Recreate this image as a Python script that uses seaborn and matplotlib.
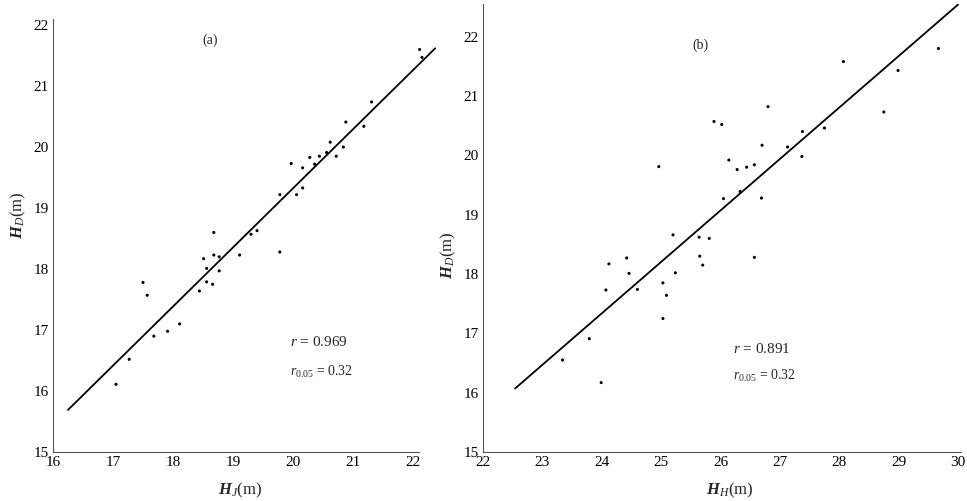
import numpy as np
import pandas as pd
import matplotlib
matplotlib.use("Agg")
import matplotlib.pyplot as plt
import seaborn as sns

# ---- Panel (a) data ----
a_x = [22.11, 22.15, 21.31, 20.88, 21.18, 20.62, 20.84, 20.28, 20.44, 20.56, 20.72,
       19.97, 20.16, 20.36, 20.16, 20.06, 19.78, 18.68, 19.30, 19.40, 19.78, 19.11,
       18.51, 18.68, 18.77, 18.56, 18.77, 18.56, 18.66, 18.44, 17.50, 17.57, 18.11,
       17.91, 17.68, 17.27, 17.05]
a_y = [21.60, 21.47, 20.74, 20.41, 20.34, 20.08, 20.00, 19.83, 19.85, 19.91, 19.85,
       19.73, 19.66, 19.72, 19.33, 19.22, 19.22, 18.60, 18.57, 18.63, 18.28, 18.23,
       18.17, 18.23, 18.20, 18.01, 17.97, 17.79, 17.75, 17.64, 17.78, 17.57, 17.10,
       16.98, 16.90, 16.52, 16.11]
a_line_x = [16.25, 22.37]
a_line_y = [15.69, 21.62]

# ---- Panel (b) data ----
b_x = [29.67, 28.07, 28.99, 28.75, 26.80, 25.89, 26.02, 27.38, 27.75, 26.70, 27.13,
       27.37, 26.14, 26.28, 26.44, 26.57, 24.96, 26.05, 26.69, 26.33, 25.20, 25.64,
       25.81, 24.42, 24.12, 25.65, 25.70, 26.57, 24.46, 25.24, 25.03, 25.09, 24.60,
       24.07, 25.03, 23.79, 23.34, 23.99]
b_y = [21.80, 21.58, 21.43, 20.73, 20.82, 20.57, 20.52, 20.40, 20.46, 20.17, 20.14,
       19.98, 19.92, 19.76, 19.80, 19.84, 19.81, 19.27, 19.28, 19.39, 18.66, 18.62,
       18.60, 18.27, 18.17, 18.30, 18.15, 18.28, 18.01, 18.02, 17.85, 17.64, 17.74,
       17.73, 17.25, 16.91, 16.55, 16.17]
b_line_x = [22.54, 30.0]
b_line_y = [16.07, 22.54]

a_xticks = [16, 17, 18, 19, 20, 21, 22]
a_yticks = [15, 16, 17, 18, 19, 20, 21, 22]
b_xticks = [22, 23, 24, 25, 26, 27, 28, 29, 30]
b_yticks = [15, 16, 17, 18, 19, 20, 21, 22]

sns.set_style("white")
plt.rcParams['font.family'] = ['Liberation Serif', 'DejaVu Serif']
plt.rcParams['mathtext.fontset'] = 'custom'
plt.rcParams['mathtext.rm'] = 'Liberation Serif'
plt.rcParams['mathtext.it'] = 'Liberation Serif:italic'
plt.rcParams['mathtext.bf'] = 'Liberation Serif:bold:italic'

fig = plt.figure(figsize=(9.67, 5.01), dpi=100)
W, H = 967, 501

def make_ax(x0, x1, y0, y1):
    return fig.add_axes([x0 / W, 1 - y1 / H, (x1 - x0) / W, (y1 - y0) / H])

ax1 = make_ax(53, 419, 19, 452)
ax2 = make_ax(483, 961, 4, 452)

dfa = pd.DataFrame({"x": a_x, "y": a_y})
dfb = pd.DataFrame({"x": b_x, "y": b_y})
dla = pd.DataFrame({"x": a_line_x, "y": a_line_y})
dlb = pd.DataFrame({"x": b_line_x, "y": b_line_y})

for ax, df, dl, xl, yl, xt, yt in [
    (ax1, dfa, dla, (16, 22.1), (15, 22.1), a_xticks, a_yticks),
    (ax2, dfb, dlb, (22, 30.05), (15, 22.55), b_xticks, b_yticks),
]:
    sns.scatterplot(data=df, x="x", y="y", ax=ax, s=5, color="black",
                    edgecolor="none", legend=False, clip_on=False)
    sns.lineplot(data=dl, x="x", y="y", ax=ax, color="black", linewidth=1.3,
                 legend=False, sort=False, clip_on=False)
    ax.set_xlim(*xl)
    ax.set_ylim(*yl)
    ax.set_xticks(xt)
    ax.set_yticks(yt)
    ax.tick_params(direction="in", length=3, width=0.8, labelsize=11, pad=3,
                   colors="black")
    for s in ["top", "right"]:
        ax.spines[s].set_visible(False)
    for s in ["left", "bottom"]:
        ax.spines[s].set_color("#555555")
        ax.spines[s].set_linewidth(0.8)
    ax.set_xlabel("")
    ax.set_ylabel("")
    ax.patch.set_alpha(0)

# labels
fig.text(240 / W, 1 - 490 / H, r"$\mathbf{H}_{\mathit{J}}$(m)", ha="center", va="center", fontsize=12)
fig.text(730 / W, 1 - 490 / H, r"$\mathbf{H}_{\mathit{H}}$(m)", ha="center", va="center", fontsize=12)
fig.text(18 / W, 1 - 215 / H, r"$\mathbf{H}_{\mathit{D}}$(m)", ha="center", va="center", fontsize=12, rotation=90)
fig.text(448 / W, 1 - 255 / H, r"$\mathbf{H}_{\mathit{D}}$(m)", ha="center", va="center", fontsize=12, rotation=90)

# annotations
fig.text(210 / W, 1 - 40 / H, "(a)", ha="center", va="center", fontsize=10)
fig.text(700 / W, 1 - 45 / H, "(b)", ha="center", va="center", fontsize=10)
fig.text(290 / W, 1 - 342 / H, r"$r$ = 0.969", ha="left", va="center", fontsize=11)
fig.text(290 / W, 1 - 372 / H, r"$r_{0.05}$ = 0.32", ha="left", va="center", fontsize=10)
fig.text(733 / W, 1 - 349 / H, r"$r$ = 0.891", ha="left", va="center", fontsize=11)
fig.text(733 / W, 1 - 376 / H, r"$r_{0.05}$ = 0.32", ha="left", va="center", fontsize=10)

fig.savefig("out.png", dpi=100)
